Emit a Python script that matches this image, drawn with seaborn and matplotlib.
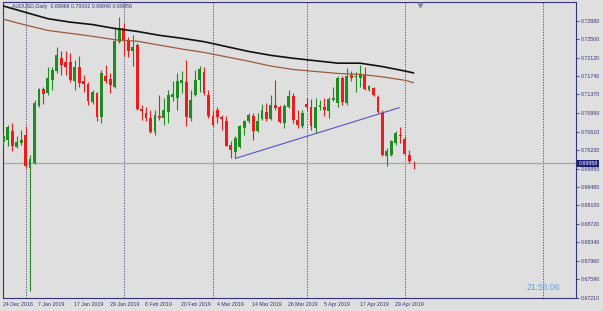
import matplotlib
matplotlib.use("Agg")
import matplotlib.pyplot as plt
import matplotlib.transforms as mtransforms
import numpy as np
import pandas as pd
import seaborn as sns

# ---------------- data ----------------
opens = [
    0.7039, 0.7044, 0.7063, 0.7029, 0.7038, 0.7053, 0.6987, 0.6997, 0.7114, 0.7149,
    0.7140, 0.7167, 0.7184, 0.7211, 0.7204, 0.7203, 0.7165, 0.7193, 0.7165, 0.7159,
    0.7121, 0.7140, 0.7091, 0.7175, 0.7168, 0.7152, 0.7245, 0.7273, 0.7247, 0.7225,
    0.7238, 0.7108, 0.7100, 0.7089, 0.7061, 0.7093, 0.7089, 0.7102, 0.7132, 0.7130,
    0.7161, 0.7163, 0.7089, 0.7136, 0.7166, 0.7183, 0.7136, 0.7093, 0.7106, 0.7091,
    0.7082, 0.7034, 0.7020, 0.7030, 0.7068, 0.7082, 0.7093, 0.7063, 0.7087, 0.7102,
    0.7087, 0.7116, 0.7112, 0.7079, 0.7112, 0.7134, 0.7085, 0.7073, 0.7118, 0.7111,
    0.7068, 0.7112, 0.7112, 0.7104, 0.7125, 0.7119, 0.7170, 0.7119, 0.7177, 0.7172,
    0.7170, 0.7177, 0.7147, 0.7150, 0.7132, 0.7100, 0.7012, 0.7014, 0.7038, 0.7055,
    0.7046, 0.7014, 0.69966]
highs = [
    0.7058, 0.7075, 0.7079, 0.7051, 0.7065, 0.7072, 0.7014, 0.7126, 0.7150, 0.7153,
    0.7194, 0.7194, 0.7235, 0.7225, 0.7225, 0.7221, 0.7208, 0.7215, 0.7177, 0.7163,
    0.7146, 0.7143, 0.7186, 0.7198, 0.7181, 0.7276, 0.7295, 0.7283, 0.7254, 0.7259,
    0.7242, 0.7116, 0.7112, 0.7106, 0.7106, 0.7136, 0.7130, 0.7147, 0.7164, 0.7181,
    0.7184, 0.7208, 0.7147, 0.7187, 0.7196, 0.7194, 0.7147, 0.7106, 0.7112, 0.7095,
    0.7092, 0.7041, 0.7051, 0.7075, 0.7085, 0.7099, 0.7099, 0.7099, 0.7118, 0.7119,
    0.7136, 0.7167, 0.7116, 0.7118, 0.7147, 0.7140, 0.7106, 0.7106, 0.7130, 0.7128,
    0.7130, 0.7126, 0.7130, 0.7132, 0.7152, 0.7175, 0.7174, 0.7191, 0.7184, 0.7182,
    0.7198, 0.7194, 0.7157, 0.7153, 0.7136, 0.7106, 0.7027, 0.7044, 0.7063, 0.7070,
    0.7051, 0.7024, 0.70002]
lows = [
    0.7034, 0.7031, 0.7021, 0.7027, 0.7034, 0.6987, 0.6735, 0.6995, 0.7112, 0.7118,
    0.7136, 0.7147, 0.7181, 0.7177, 0.7177, 0.7163, 0.7146, 0.7153, 0.7143, 0.7116,
    0.7118, 0.7082, 0.7079, 0.7160, 0.7140, 0.7150, 0.7242, 0.7215, 0.7214, 0.7196,
    0.7106, 0.7085, 0.7082, 0.7058, 0.7055, 0.7085, 0.7075, 0.7079, 0.7123, 0.7106,
    0.7140, 0.7072, 0.7082, 0.7133, 0.7143, 0.7136, 0.7089, 0.7072, 0.7079, 0.7065,
    0.7031, 0.7007, 0.7006, 0.7028, 0.7055, 0.7079, 0.7044, 0.7061, 0.7085, 0.7082,
    0.7085, 0.7106, 0.7079, 0.7068, 0.7109, 0.7079, 0.7068, 0.7068, 0.7106, 0.7065,
    0.7058, 0.7106, 0.7092, 0.7089, 0.7123, 0.7112, 0.7116, 0.7116, 0.7164, 0.7143,
    0.7153, 0.7147, 0.7145, 0.7134, 0.7099, 0.7012, 0.6990, 0.7010, 0.7034, 0.7038,
    0.7014, 0.6997, 0.69840]
closes = [
    0.7051, 0.7070, 0.7031, 0.7039, 0.7044, 0.6990, 0.7005, 0.7119, 0.7148, 0.7138,
    0.7170, 0.7186, 0.7218, 0.7198, 0.7194, 0.7167, 0.7193, 0.7161, 0.7159, 0.7123,
    0.7143, 0.7091, 0.7181, 0.7164, 0.7157, 0.7247, 0.7273, 0.7247, 0.7225, 0.7234,
    0.7108, 0.7104, 0.7089, 0.7061, 0.7095, 0.7089, 0.7106, 0.7136, 0.7137, 0.7164,
    0.7166, 0.7091, 0.7126, 0.7167, 0.7189, 0.7140, 0.7092, 0.7075, 0.7091, 0.7087,
    0.7032, 0.7024, 0.7048, 0.7072, 0.7083, 0.7095, 0.7063, 0.7083, 0.7106, 0.7087,
    0.7116, 0.7109, 0.7080, 0.7114, 0.7134, 0.7084, 0.7075, 0.7098, 0.7112, 0.7072,
    0.7112, 0.7116, 0.7106, 0.7128, 0.7129, 0.7170, 0.7121, 0.7174, 0.7170, 0.7175,
    0.7177, 0.7148, 0.7155, 0.7136, 0.7102, 0.7014, 0.7021, 0.7041, 0.7059, 0.7051,
    0.7016, 0.7000, 0.69958]

ma_idx = [0, 5, 10, 15, 20, 25, 30, 35, 40, 45, 50, 55, 60, 65, 70, 75, 80, 85, 90, 92]
ma_black = [0.7318, 0.7305, 0.7292, 0.7285, 0.7280, 0.7272, 0.7266, 0.7258, 0.7252, 0.7245,
            0.7235, 0.7225, 0.7217, 0.7211, 0.7206, 0.7201, 0.7201, 0.7194, 0.7185, 0.7181]
ma_brown = [0.7291, 0.7279, 0.7268, 0.7262, 0.7256, 0.7249, 0.7246, 0.7238, 0.7230, 0.7223,
            0.7214, 0.7205, 0.7195, 0.7188, 0.7184, 0.7180, 0.7178, 0.7173, 0.7166, 0.7161]

trend_idx = [52, 88.8]
trend_price = [0.7006, 0.7110]

separator_idx = [5, 27, 47, 68, 90, 121]
xtick_idx = [0, 8, 16, 24, 32, 40, 48, 56, 64, 72, 80, 88]
xtick_labels = ["24 Dec 2018", "7 Jan 2019", "17 Jan 2019", "29 Jan 2019", "8 Feb 2019",
                "20 Feb 2019", "4 Mar 2019", "14 Mar 2019", "26 Mar 2019", "5 Apr 2019",
                "17 Apr 2019", "29 Apr 2019"]
ytick_vals = [0.72880, 0.72500, 0.72120, 0.71740, 0.71370, 0.70990, 0.70610, 0.70230,
              0.69850, 0.69480, 0.69100, 0.68720, 0.68340, 0.67960, 0.67590, 0.67210]
current_price = 0.69958
title_text = "AUDUSD,Daily  0.69966 0.70002 0.69840 0.69958"
clock_text = "21:56:06"

# ---------------- style ----------------
BG = "#DFDFDF"
NAVY = "#33337a"
GREEN = "#1f8c1f"
RED = "#f01a1a"

sns.set_theme(style="white", rc={"axes.facecolor": BG, "figure.facecolor": BG})
plt.rcParams["font.family"] = ["Liberation Sans", "DejaVu Sans"]

fig = plt.figure(figsize=(6.03, 3.11), dpi=100)
ax = fig.add_axes([2.5 / 603, 13.3 / 311, 573.5 / 603, 296.0 / 311])
ax.set_facecolor(BG)

df = pd.DataFrame({"i": np.arange(len(opens)), "open": opens, "high": highs,
                   "low": lows, "close": closes})
df["up"] = df["close"] >= df["open"]
df["color"] = np.where(df["up"], GREEN, RED)

# month separators
for s in separator_idx:
    ax.axvline(s, color="#4a4a70", lw=0.7, ls=(0, (1.2, 1.5)), zorder=1)

# current price line
ax.axhline(current_price, color="#a6a6a6", lw=0.9, zorder=1)

# wicks
ax.vlines(df["i"], df["low"], df["high"], colors=df["color"], lw=0.8, zorder=3)
# bodies
body_bottom = np.minimum(df["open"], df["close"])
body_height = np.maximum(np.abs(df["close"] - df["open"]), 0.00008)
ax.bar(df["i"], body_height, bottom=body_bottom, width=0.64, color=df["color"],
       linewidth=0, zorder=4)

# moving averages
ma_df = pd.DataFrame({"i": ma_idx, "black": ma_black, "brown": ma_brown})
sns.lineplot(data=ma_df, x="i", y="black", ax=ax, color="#111111", lw=1.2, zorder=5)
sns.lineplot(data=ma_df, x="i", y="brown", ax=ax, color="#9c5a3c", lw=0.9, zorder=5)

# trend line
ax.plot(trend_idx, trend_price, color="#5656bd", lw=0.8, zorder=5)

# axes limits
ax.set_xlim(-0.18, 128.4)
ax.set_ylim(0.67224, 0.73268)
ax.set_xlabel("")
ax.set_ylabel("")

# spines
for sp in ax.spines.values():
    sp.set_color(NAVY)
    sp.set_linewidth(0.8)

# y ticks on the right
ax.yaxis.tick_right()
ax.set_yticks(ytick_vals)
ax.set_yticklabels([f"{v:.5f}" for v in ytick_vals])
ax.tick_params(axis="y", direction="out", length=2.5, width=0.6, color=NAVY,
               labelsize=3.8, labelcolor=NAVY, pad=1.2)

# x ticks
ax.set_xticks([i - 0.13 for i in xtick_idx])
ax.set_xticklabels(xtick_labels)
ax.tick_params(axis="x", direction="out", length=2.5, width=0.6, color=NAVY,
               labelsize=3.8, labelcolor=NAVY, pad=0.8)
for lab in ax.get_xticklabels():
    lab.set_ha("left")

# title text
ax.text(0.016, 0.992, title_text, transform=ax.transAxes, ha="left", va="top",
        fontsize=3.8, color=NAVY, zorder=6)

# clock
ax.text(0.9425, 0.033, clock_text, transform=ax.transAxes, ha="center", va="center",
        fontsize=6.2, color="#5aa0e6", zorder=6)

# current price label on the axis
trans = mtransforms.blended_transform_factory(ax.transAxes, ax.transData)
ax.text(1.004, current_price, f"{current_price:.5f}", transform=trans, ha="left",
        va="center", fontsize=3.8, color="white", zorder=7, clip_on=False,
        bbox=dict(boxstyle="square,pad=0.25", fc="#1e1e78", ec="none"))

# chart shift marker at top
trans2 = mtransforms.blended_transform_factory(ax.transData, ax.transAxes)
ax.plot([93.4], [0.99], transform=trans2, marker="v", ms=3.2, color="#8a8a9a",
        clip_on=False, zorder=7)

fig.savefig("out.png", dpi=100, facecolor=BG)
